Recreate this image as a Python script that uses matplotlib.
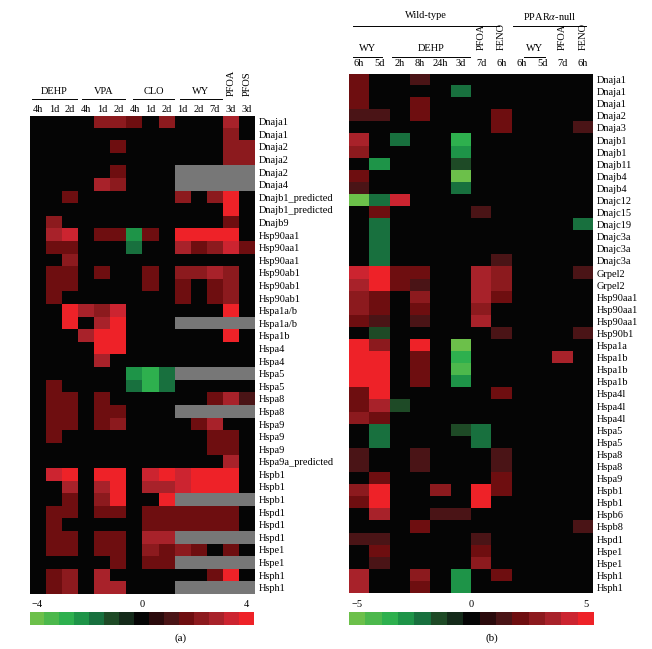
import numpy as np
import matplotlib.pyplot as plt
from matplotlib.colors import ListedColormap, BoundaryNorm
from matplotlib.cm import ScalarMappable
from matplotlib.transforms import blended_transform_factory, offset_copy

plt.rcParams["font.family"] = "serif"
plt.rcParams["font.serif"] = ["Liberation Serif", "DejaVu Serif"]
plt.rcParams["mathtext.fontset"] = "stix"

nan = np.nan

# ---- panel (a) ----
genes_a = ["Dnaja1", "Dnaja1", "Dnaja2", "Dnaja2", "Dnaja2", "Dnaja4",
           "Dnajb1_predicted", "Dnajb1_predicted", "Dnajb9", "Hsp90aa1",
           "Hsp90aa1", "Hsp90aa1", "Hsp90ab1", "Hsp90ab1", "Hsp90ab1",
           "Hspa1a/b", "Hspa1a/b", "Hspa1b", "Hspa4", "Hspa4", "Hspa5",
           "Hspa5", "Hspa8", "Hspa8", "Hspa9", "Hspa9", "Hspa9",
           "Hspa9a_predicted", "Hspb1", "Hspb1", "Hspb1", "Hspd1", "Hspd1",
           "Hspd1", "Hspe1", "Hspe1", "Hsph1", "Hsph1"]
times_a = ["4h", "1d", "2d", "4h", "1d", "2d", "4h", "1d", "2d",
           "1d", "2d", "7d", "3d", "3d"]
groups_a = ["DEHP", "VPA", "CLO", "WY"]
single_a = ["PFOA", "PFOS"]
values_a = [
    [0, 0, 0, 0, 2.3, 2.3, 1.7, 0, 2.3, 0, 0, 0, 2.9, 0],
    [0, 0, 0, 0, 0, 0, 0, 0, 0, 0, 0, 0, 2.3, 0],
    [0, 0, 0, 0, 0, 1.7, 0, 0, 0, 0, 0, 0, 2.3, 2.3],
    [0, 0, 0, 0, 0, 0, 0, 0, 0, 0, 0, 0, 2.3, 2.3],
    [0, 0, 0, 0, 0, 1.7, 0, 0, 0, nan, nan, nan, nan, nan],
    [0, 0, 0, 0, 2.9, 2.3, 0, 0, 0, nan, nan, nan, nan, nan],
    [0, 0, 1.7, 0, 0, 0, 0, 0, 0, 2.3, 0, 2.3, 4.0, 0],
    [0, 0, 0, 0, 0, 0, 0, 0, 0, 0, 0, 0, 4.0, 0],
    [0, 2.3, 0, 0, 0, 0, 0, 0, 0, 0, 0, 0, 1.7, 0],
    [0, 2.9, 3.4, 0, 1.7, 1.7, -2.3, 1.7, 0, 4.0, 4.0, 4.0, 4.0, 0],
    [0, 1.7, 1.7, 0, 0, 0, -1.7, 0, 0, 2.9, 1.7, 2.3, 3.4, 1.7],
    [0, 0, 2.3, 0, 0, 0, 0, 0, 0, 0, 0, 0, 0, 0],
    [0, 1.7, 1.7, 0, 1.7, 0, 0, 1.7, 0, 2.3, 2.3, 2.9, 2.3, 0],
    [0, 1.7, 1.7, 0, 0, 0, 0, 1.7, 0, 1.7, 0, 1.7, 2.3, 0],
    [0, 1.7, 0, 0, 0, 0, 0, 0, 0, 1.7, 0, 1.7, 2.3, 0],
    [0, 0, 4.0, 2.9, 2.3, 3.4, 0, 0, 0, 0, 0, 0, 4.0, 0],
    [0, 0, 4.0, 0, 2.9, 4.0, 0, 0, 0, nan, nan, nan, nan, nan],
    [0, 0, 0, 2.9, 4.0, 4.0, 0, 0, 0, 0, 0, 0, 4.0, 0],
    [0, 0, 0, 0, 4.0, 4.0, 0, 0, 0, 0, 0, 0, 0, 0],
    [0, 0, 0, 0, 2.9, 0, 0, 0, 0, 0, 0, 0, 0, 0],
    [0, 0, 0, 0, 0, 0, -2.3, -2.9, -1.7, nan, nan, nan, nan, nan],
    [0, 1.7, 0, 0, 0, 0, -1.7, -2.9, -1.7, 0, 0, 0, 0, 0],
    [0, 1.7, 1.7, 0, 1.7, 0, 0, 0, 0, 0, 0, 1.7, 2.9, 1.1],
    [0, 1.7, 1.7, 0, 1.7, 1.7, 0, 0, 0, nan, nan, nan, nan, nan],
    [0, 1.7, 1.7, 0, 1.7, 2.3, 0, 0, 0, 0, 1.7, 2.9, 0, 0],
    [0, 1.7, 0, 0, 0, 0, 0, 0, 0, 0, 0, 1.7, 1.7, 0],
    [0, 0, 0, 0, 0, 0, 0, 0, 0, 0, 0, 1.7, 1.7, 0],
    [0, 0, 0, 0, 0, 0, 0, 0, 0, 0, 0, 0, 2.9, 0],
    [0, 3.4, 4.0, 0, 4.0, 4.0, 0, 3.4, 4.0, 3.4, 4.0, 4.0, 4.0, 0],
    [0, 0, 2.9, 0, 2.9, 4.0, 0, 2.9, 2.9, 3.4, 4.0, 4.0, 4.0, 0],
    [0, 0, 1.7, 0, 2.3, 4.0, 0, 0, 4.0, nan, nan, nan, nan, nan],
    [0, 1.7, 1.7, 0, 1.7, 1.7, 0, 1.7, 1.7, 1.7, 1.7, 1.7, 1.7, 0],
    [0, 1.7, 0, 0, 0, 0, 0, 1.7, 1.7, 1.7, 1.7, 1.7, 1.7, 0],
    [0, 1.7, 1.7, 0, 1.7, 1.7, 0, 2.9, 2.9, nan, nan, nan, nan, nan],
    [0, 1.7, 1.7, 0, 1.7, 1.7, 0, 2.3, 1.7, 2.3, 1.7, 0, 1.7, 0],
    [0, 0, 0, 0, 0, 1.7, 0, 1.7, 1.7, nan, nan, nan, nan, nan],
    [0, 1.7, 2.3, 0, 2.9, 0, 0, 0, 0, 0, 0, 1.7, 4.0, 0],
    [0, 1.7, 2.3, 0, 2.9, 2.9, 0, 0, 0, nan, nan, nan, nan, nan],
]

# ---- panel (b) ----
genes_b = ["Dnaja1", "Dnaja1", "Dnaja1", "Dnaja2", "Dnaja3", "Dnajb1",
           "Dnajb1", "Dnajb11", "Dnajb4", "Dnajb4", "Dnajc12", "Dnajc15",
           "Dnajc19", "Dnajc3a", "Dnajc3a", "Dnajc3a", "Grpel2", "Grpel2",
           "Hsp90aa1", "Hsp90aa1", "Hsp90aa1", "Hsp90b1", "Hspa1a", "Hspa1b",
           "Hspa1b", "Hspa1b", "Hspa4l", "Hspa4l", "Hspa4l", "Hspa5", "Hspa5",
           "Hspa8", "Hspa8", "Hspa9", "Hspb1", "Hspb1", "Hspb6", "Hspb8",
           "Hspd1", "Hspe1", "Hspe1", "Hsph1", "Hsph1"]
times_b = ["6h", "5d", "2h", "8h", "24h", "3d", "7d", "6h",
           "6h", "5d", "7d", "6h"]
values_b = [
    [2.1, 0, 0, 1.4, 0, 0, 0, 0, 0, 0, 0, 0],
    [2.1, 0, 0, 0, 0, -2.1, 0, 0, 0, 0, 0, 0],
    [2.1, 0, 0, 2.1, 0, 0, 0, 0, 0, 0, 0, 0],
    [1.4, 1.4, 0, 2.1, 0, 0, 0, 2.1, 0, 0, 0, 0],
    [0, 0, 0, 0, 0, 0, 0, 2.1, 0, 0, 0, 1.4],
    [3.6, 0, -2.1, 0, 0, -3.6, 0, 0, 0, 0, 0, 0],
    [2.9, 0, 0, 0, 0, -2.9, 0, 0, 0, 0, 0, 0],
    [0, -2.9, 0, 0, 0, -1.4, 0, 0, 0, 0, 0, 0],
    [2.1, 0, 0, 0, 0, -5.0, 0, 0, 0, 0, 0, 0],
    [1.4, 0, 0, 0, 0, -2.1, 0, 0, 0, 0, 0, 0],
    [-5.0, -2.1, 4.3, 0, 0, 0, 0, 0, 0, 0, 0, 0],
    [0, 2.1, 0, 0, 0, 0, 1.4, 0, 0, 0, 0, 0],
    [0, -2.1, 0, 0, 0, 0, 0, 0, 0, 0, 0, -2.1],
    [0, -2.1, 0, 0, 0, 0, 0, 0, 0, 0, 0, 0],
    [0, -2.1, 0, 0, 0, 0, 0, 0, 0, 0, 0, 0],
    [0, -2.1, 0, 0, 0, 0, 0, 1.4, 0, 0, 0, 0],
    [4.3, 5.0, 2.1, 2.1, 0, 0, 3.6, 2.9, 0, 0, 0, 1.4],
    [3.6, 5.0, 2.1, 1.4, 0, 0, 3.6, 2.9, 0, 0, 0, 0],
    [2.9, 2.1, 0, 2.9, 0, 0, 3.6, 2.1, 0, 0, 0, 0],
    [2.9, 2.1, 0, 2.1, 0, 0, 2.9, 0, 0, 0, 0, 0],
    [2.1, 1.4, 0, 1.4, 0, 0, 3.6, 0, 0, 0, 0, 0],
    [0, -1.4, 0, 0, 0, 0, 0, 1.4, 0, 0, 0, 1.4],
    [5.0, 2.9, 0, 5.0, 0, -5.0, 0, 0, 0, 0, 0, 0],
    [5.0, 5.0, 0, 2.1, 0, -3.6, 0, 0, 0, 0, 3.6, 0],
    [5.0, 5.0, 0, 2.1, 0, -4.3, 0, 0, 0, 0, 0, 0],
    [5.0, 5.0, 0, 2.1, 0, -2.9, 0, 0, 0, 0, 0, 0],
    [2.1, 5.0, 0, 0, 0, 0, 0, 2.1, 0, 0, 0, 0],
    [2.1, 3.6, -1.4, 0, 0, 0, 0, 0, 0, 0, 0, 0],
    [2.9, 2.1, 0, 0, 0, 0, 0, 0, 0, 0, 0, 0],
    [0, -2.1, 0, 0, 0, -1.4, -2.1, 0, 0, 0, 0, 0],
    [0, -2.1, 0, 0, 0, 0, -2.1, 0, 0, 0, 0, 0],
    [1.4, 0, 0, 1.4, 0, 0, 0, 1.4, 0, 0, 0, 0],
    [1.4, 0, 0, 1.4, 0, 0, 0, 1.4, 0, 0, 0, 0],
    [0, 2.1, 0, 0, 0, 0, 0, 2.1, 0, 0, 0, 0],
    [2.9, 5.0, 0, 0, 2.9, 0, 5.0, 2.1, 0, 0, 0, 0],
    [2.1, 5.0, 0, 0, 0, 0, 5.0, 0, 0, 0, 0, 0],
    [0, 3.6, 0, 0, 1.4, 1.4, 0, 0, 0, 0, 0, 0],
    [0, 0, 0, 2.1, 0, 0, 0, 0, 0, 0, 0, 1.4],
    [1.4, 1.4, 0, 0, 0, 0, 1.4, 0, 0, 0, 0, 0],
    [0, 2.1, 0, 0, 0, 0, 2.1, 0, 0, 0, 0, 0],
    [0, 1.4, 0, 0, 0, 0, 2.9, 0, 0, 0, 0, 0],
    [3.6, 0, 0, 2.9, 0, -2.9, 0, 2.1, 0, 0, 0, 0],
    [3.6, 0, 0, 2.1, 0, -2.9, 0, 0, 0, 0, 0, 0],
]

scale_colors = ["#6cc04a", "#4cb84c", "#2eb04e", "#1e9448", "#18703e",
                "#1e4a26", "#142a1a", "#050505", "#2a0a0c", "#4a1416",
                "#6e0e10", "#8c1a1e", "#a8222a", "#cc2430", "#ee2228"]

cmap = ListedColormap(scale_colors)
cmap.set_bad("#777777")


def make_norm(vmax):
    step = 2 * vmax / 14
    return BoundaryNorm(np.linspace(-vmax - step / 2, vmax + step / 2, 16), cmap.N)


def label_above(ax, x, px, text, **kw):
    # px: distance above the top of the heatmap, in pixels
    kw.setdefault("ha", "center")
    kw.setdefault("va", "center")
    kw.setdefault("fontsize", 7.5)
    ax.annotate(text, xy=(x, 1), xycoords=("data", "axes fraction"),
                xytext=(0, px * 0.72), textcoords="offset points",
                annotation_clip=False, **kw)


def line_above(fig, ax, x0, x1, px):
    trans = offset_copy(blended_transform_factory(ax.transData, ax.transAxes),
                        fig=fig, y=px, units="dots")
    ax.plot([x0, x1], [1, 1], transform=trans, color="black", lw=0.7,
            clip_on=False)


def heatmap(ax, values, genes, times, norm, time_px):
    data = np.array(values, dtype=float)
    ax.imshow(data, cmap=cmap, norm=norm, aspect="auto", interpolation="nearest")
    ax.set_xticks([])
    ax.set_yticks(range(len(genes)))
    ax.set_yticklabels(genes, fontsize=7.5)
    ax.yaxis.tick_right()
    ax.tick_params(axis="y", length=0, pad=2.5)
    for s in ax.spines.values():
        s.set_visible(False)
    for i, t in enumerate(times):
        label_above(ax, i, time_px, t)
    ax.set_xlim(-0.5, data.shape[1] - 0.5)
    ax.set_ylim(data.shape[0] - 0.5, -0.5)


def scale_bar(fig, rect, vmax, norm):
    cax = fig.add_axes(rect)
    cb = fig.colorbar(ScalarMappable(norm=norm, cmap=cmap), cax=cax,
                      orientation="horizontal")
    cb.set_ticks([-vmax, 0, vmax])
    cb.set_ticklabels(["\u2212%d" % vmax, "0", "%d" % vmax])
    cax.xaxis.set_ticks_position("top")
    cax.tick_params(length=0, pad=2, labelsize=7.5)
    cax.minorticks_off()
    cb.outline.set_visible(False)


W, H = 652, 649
fig = plt.figure(figsize=(W / 100, H / 100), dpi=100)

# panel (a)
norm_a = make_norm(4)
ax_a = fig.add_axes([30 / W, (H - 594) / H, 225 / W, (594 - 115.5) / H])
heatmap(ax_a, values_a, genes_a, times_a, norm_a, 6.5)
spans_a = [(-0.38, 2.42), (2.74, 5.41), (5.91, 8.46), (8.83, 11.45)]
for name, (x0, x1) in zip(groups_a, spans_a):
    line_above(fig, ax_a, x0, x1, 16.5)
    label_above(ax_a, (x0 + x1) / 2, 23.5, name)
for i, name in enumerate(single_a):
    label_above(ax_a, 12 + i, 19, name, rotation=90, va="bottom")
scale_bar(fig, [29.5 / W, (H - 624.5) / H, 224.5 / W, 12.5 / H], 4, norm_a)
fig.text(181 / W, 1 - 638 / H, "(a)", ha="center", va="center", fontsize=8)

# panel (b)
norm_b = make_norm(5)
ax_b = fig.add_axes([349 / W, (H - 593.5) / H, 244 / W, (593.5 - 73.5) / H])
heatmap(ax_b, values_b, genes_b, times_b, norm_b, 10.5)
groups_b = [("WY", -0.3, 1.12), ("DEHP", 1.61, 5.45), ("WY", 8.1, 9.14)]
for name, x0, x1 in groups_b:
    line_above(fig, ax_b, x0, x1, 17)
    label_above(ax_b, (x0 + x1) / 2, 25, name)
for x, name in [(6, "PFOA"), (7, "FENO"), (10, "PFOA"), (11, "FENO")]:
    label_above(ax_b, x, 23.5, name, rotation=90, va="bottom")
strains_b = [("Wild-type", -0.3, 6.9), ("PPAR$\\alpha$-null", 7.57, 11.16)]
for name, x0, x1 in strains_b:
    line_above(fig, ax_b, x0, x1, 47.5)
    label_above(ax_b, (x0 + x1) / 2, 57.5, name)
scale_bar(fig, [349 / W, (H - 624.5) / H, 245 / W, 12.5 / H], 5, norm_b)
fig.text(492 / W, 1 - 638 / H, "(b)", ha="center", va="center", fontsize=8)

fig.savefig("out.png", dpi=100, facecolor="white")
